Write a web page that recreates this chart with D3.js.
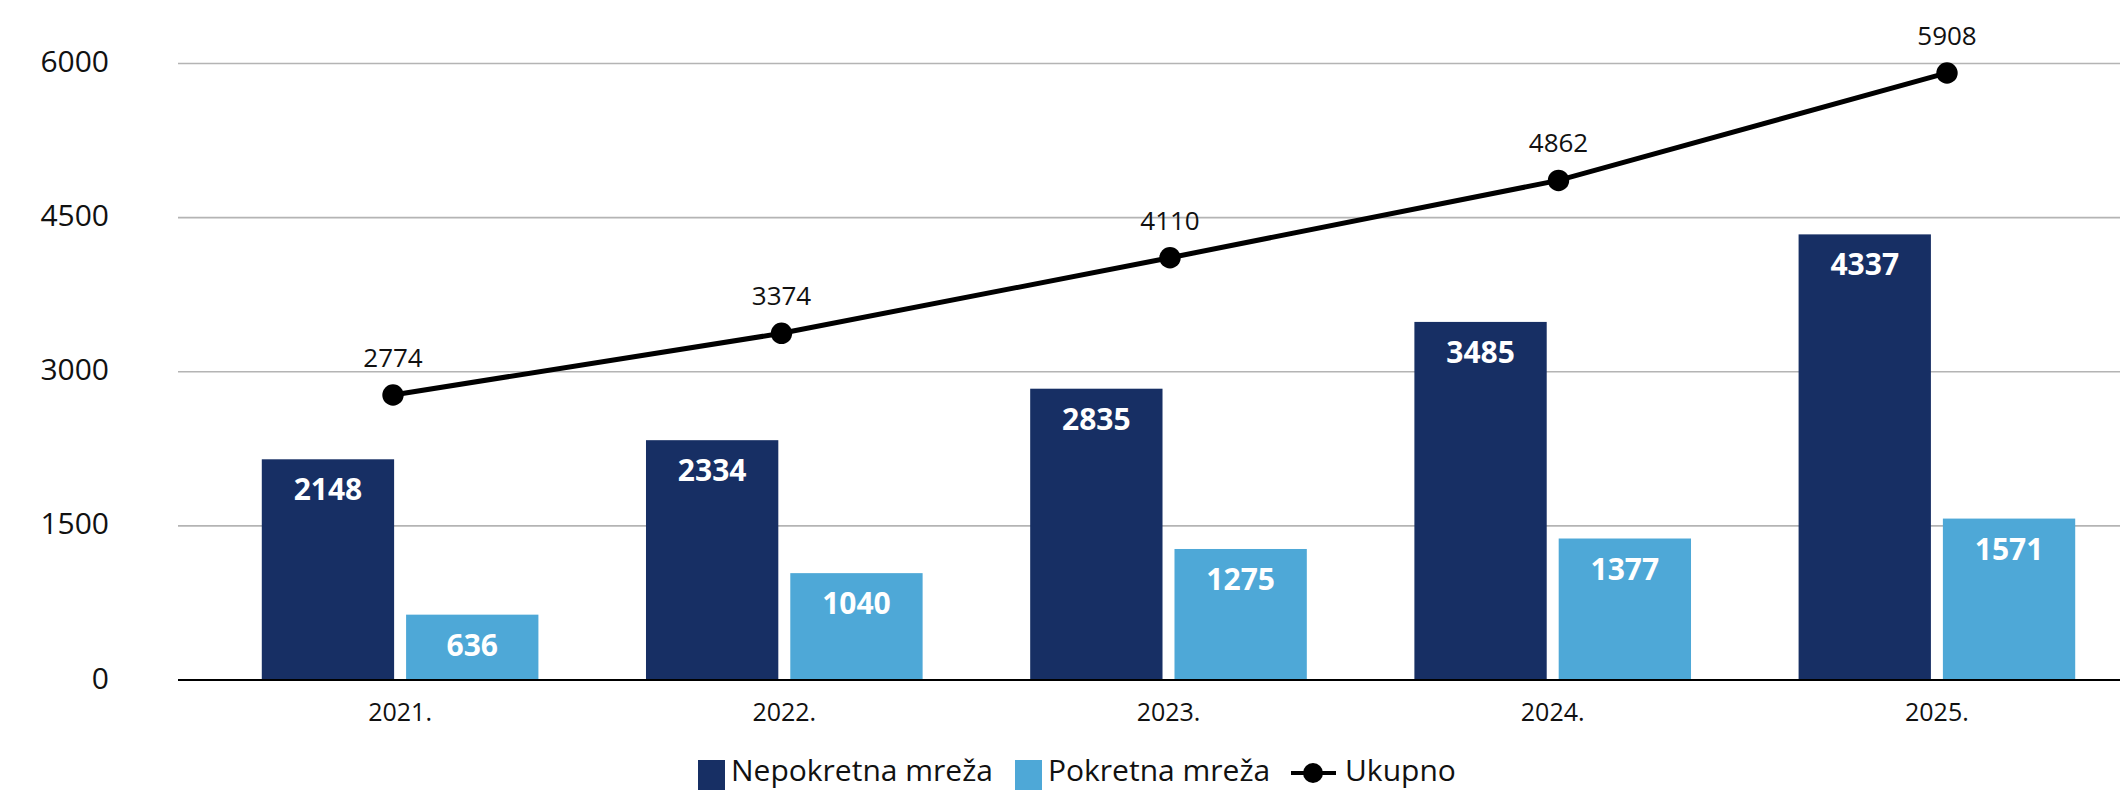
<!DOCTYPE html>
<html>
<head>
<meta charset="utf-8">
<script src="https://cdn.jsdelivr.net/npm/d3@7"></script>
<style>
    body { margin: 0; background: white; }
    text { font-family: "Open Sans", sans-serif; }
    .tick_label { font-size: 30px; fill: #111; }
    .year_label { font-size: 25px; fill: #111; }
    .total_label { font-size: 26px; fill: #111; }
    .bar_label { font-size: 30px; fill: white; font-weight: 700; }
    .legend_text { font-size: 30px; fill: #111; }
</style>
</head>
<body>
<div id="paper"></div>
<script>

// chart data.

const years = ["2021.", "2022.", "2023.", "2024.", "2025."]
const nepokretna = [2148, 2334, 2835, 3485, 4337]
const pokretna = [636, 1040, 1275, 1377, 1571]
const ukupno = [2774, 3374, 4110, 4862, 5908]
const y_ticks = [0, 1500, 3000, 4500, 6000]

const series_names = ["Nepokretna mreža", "Pokretna mreža", "Ukupno"]
const series_colors = ["#172f64", "#4ea8d7"]

// render chart.

function render_chart() {

    let svg = d3.select("#paper")
        .append("svg")
        .attr("id", "canvas")
        .attr("width", "2120")
        .attr("height", "790")

    // scales.

    let y = d3.scaleLinear().domain([0, 6000]).range([680, 63.5])
    let x = d3.scaleBand().domain(years).range([208, 2129]).paddingInner(0.28).paddingOuter(0.14)
    let x_inner = d3.scaleBand().domain([0, 1]).range([0, x.bandwidth()]).paddingInner(0.083)
    let x_line = d3.scalePoint().domain(years).range([393, 1947])

    // gridlines and y labels.

    svg.selectAll(".grid")
        .data(y_ticks.filter(d => d > 0))
        .join("line")
        .attr("class", "grid")
        .attr("x1", 178)
        .attr("x2", 2120)
        .attr("y1", d => y(d))
        .attr("y2", d => y(d))
        .style("stroke", "#b4b4b4")
        .style("stroke-width", 1.6)

    svg.selectAll(".tick_label")
        .data(y_ticks)
        .join("text")
        .attr("class", "tick_label")
        .attr("x", 109)
        .attr("y", d => y(d) + 8.5)
        .attr("text-anchor", "end")
        .text(d => d)

    // bars.

    let rows = years.map((yr, i) => ({ year: yr, values: [nepokretna[i], pokretna[i]] }))

    let groups = svg.selectAll(".group")
        .data(rows)
        .join("g")
        .attr("class", "group")
        .attr("transform", d => `translate(${x(d.year)}, 0)`)

    groups.selectAll("rect")
        .data(d => d.values)
        .join("rect")
        .attr("x", (d, i) => x_inner(i))
        .attr("y", d => y(d))
        .attr("width", x_inner.bandwidth())
        .attr("height", d => y(0) - y(d))
        .style("fill", (d, i) => series_colors[i])

    groups.selectAll(".bar_label")
        .data(d => d.values)
        .join("text")
        .attr("class", "bar_label")
        .attr("x", (d, i) => x_inner(i) + x_inner.bandwidth() / 2)
        .attr("y", d => y(d) + 41)
        .attr("text-anchor", "middle")
        .text(d => d)

    // x axis baseline and labels.

    svg.append("line")
        .attr("x1", 178)
        .attr("x2", 2120)
        .attr("y1", y(0))
        .attr("y2", y(0))
        .style("stroke", "black")
        .style("stroke-width", 2.2)

    svg.selectAll(".year_label")
        .data(years)
        .join("text")
        .attr("class", "year_label")
        .attr("x", d => x(d) + x.bandwidth() / 2)
        .attr("y", 721)
        .attr("text-anchor", "middle")
        .text(d => d)

    // total line with markers.

    let line = d3.line()
        .x((d, i) => x_line(years[i]))
        .y(d => y(d))

    svg.append("path")
        .datum(ukupno)
        .attr("d", line)
        .style("fill", "none")
        .style("stroke", "black")
        .style("stroke-width", 5)

    svg.selectAll(".total_dot")
        .data(ukupno)
        .join("circle")
        .attr("class", "total_dot")
        .attr("cx", (d, i) => x_line(years[i]))
        .attr("cy", d => y(d))
        .attr("r", 10.7)
        .style("fill", "black")

    svg.selectAll(".total_label")
        .data(ukupno)
        .join("text")
        .attr("class", "total_label")
        .attr("x", (d, i) => x_line(years[i]))
        .attr("y", d => y(d) - 28)
        .attr("text-anchor", "middle")
        .text(d => d)

    // legend.

    let legend = svg.append("g").attr("class", "legend")

    legend.append("rect").attr("x", 698).attr("y", 760).attr("width", 27).attr("height", 30).style("fill", series_colors[0])
    legend.append("text").attr("class", "legend_text").attr("x", 731).attr("y", 781).text(series_names[0])

    legend.append("rect").attr("x", 1015).attr("y", 760).attr("width", 27).attr("height", 30).style("fill", series_colors[1])
    legend.append("text").attr("class", "legend_text").attr("x", 1048).attr("y", 781).text(series_names[1])

    legend.append("line").attr("x1", 1291).attr("x2", 1336).attr("y1", 773).attr("y2", 773)
        .style("stroke", "black").style("stroke-width", 4)
    legend.append("circle").attr("cx", 1313).attr("cy", 773).attr("r", 10).style("fill", "black")
    legend.append("text").attr("class", "legend_text").attr("x", 1345).attr("y", 781).text(series_names[2])
}

render_chart()

</script>
</body>
</html>
